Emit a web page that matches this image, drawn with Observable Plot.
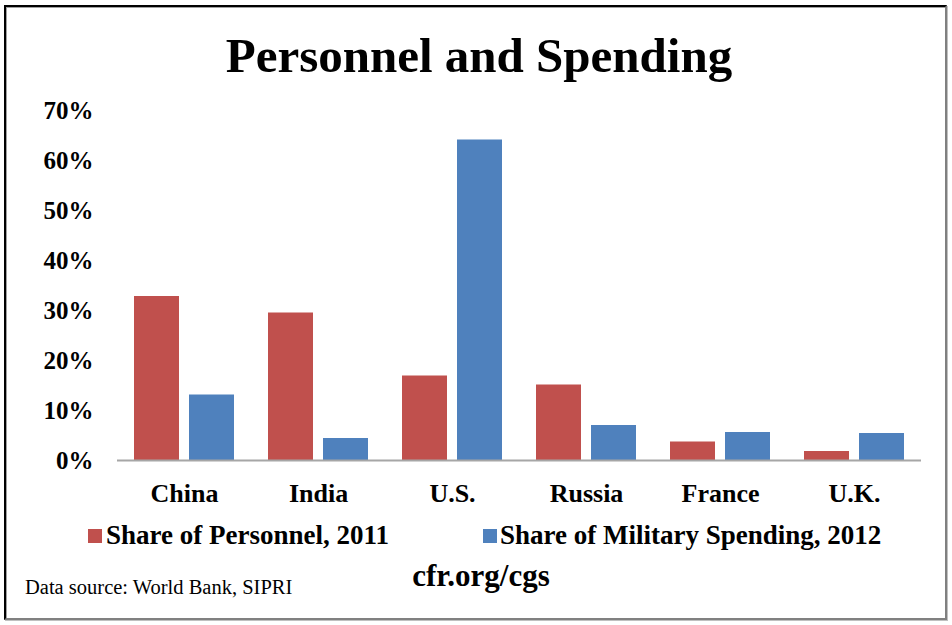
<!DOCTYPE html>
<html>
<head>
<meta charset="utf-8">
<script src="https://cdn.jsdelivr.net/npm/d3@7"></script>
<script src="https://cdn.jsdelivr.net/npm/@observablehq/plot@0.6"></script>
<style>
  html, body { margin: 0; padding: 0; background: #fff; }
  #wrap { position: relative; width: 952px; height: 625px; overflow: hidden; font-family: "Liberation Serif", "DejaVu Serif", serif; }
  #frame { position: absolute; left: 4px; top: 5px; width: 943px; height: 615px; box-sizing: border-box;
           border: 2px solid; border-color: #000 #808080 #808080 #000; box-shadow: inset 1px 1px 0 #a0a0a0, 1px 1px 0 #c0c0c0; }
  #title { position: absolute; left: 0; width: 958px; top: 27px; text-align: center; font-weight: bold; font-size: 49px; color: #000; }
  #chart { position: absolute; left: 0; top: 0; }
  .leg { position: absolute; top: 520px; font-weight: bold; font-size: 27px; color: #000; white-space: nowrap; }
  .sw { position: absolute; top: 529px; width: 14px; height: 14px; }
  #cfr { position: absolute; left: 0; width: 962px; top: 558px; text-align: center; font-weight: bold; font-size: 31px; }
  #src { position: absolute; left: 25px; top: 576px; font-size: 20.5px; }
</style>
</head>
<body>
<div id="wrap">
  <div id="chart"></div>
  <div id="frame"></div>
  <div id="title">Personnel and Spending</div>
  <div class="sw" style="left:88px;background:#C0504D"></div>
  <div class="leg" style="left:106px">Share of Personnel, 2011</div>
  <div class="sw" style="left:483px;background:#4F81BD"></div>
  <div class="leg" style="left:500px">Share of Military Spending, 2012</div>
  <div id="cfr">cfr.org/cgs</div>
  <div id="src">Data source: World Bank, SIPRI</div>
</div>
<script>
const countries = ["China", "India", "U.S.", "Russia", "France", "U.K."];
const series = ["Share of Personnel, 2011", "Share of Military Spending, 2012"];
const personnel = [32.8, 29.5, 16.9, 15.1, 3.7, 1.8];
const spending = [13.1, 4.4, 64.1, 7.0, 5.6, 5.4];
const yTicks = [0, 10, 20, 30, 40, 50, 60, 70];
const colors = ["#C0504D", "#4F81BD"];

const data = [];
countries.forEach((c, i) => {
  data.push({country: c, series: series[0], value: personnel[i]});
  data.push({country: c, series: series[1], value: spending[i]});
});

const chart = Plot.plot({
  width: 952,
  height: 520,
  marginLeft: 117,
  marginRight: 31,
  marginTop: 110,
  marginBottom: 60,
  style: {fontFamily: "'Liberation Serif', serif", fontWeight: "bold", color: "#000", background: "transparent"},
  fx: {domain: countries, padding: 0, label: null},
  x: {domain: series, paddingInner: 0.1818, paddingOuter: 0.309, axis: null},
  y: {domain: [0, 70], label: null},
  color: {domain: series, range: colors},
  marks: [
    Plot.axisY({ticks: yTicks, tickFormat: d => d + "%", tickSize: 0, tickPadding: 24, fontSize: 25, fontWeight: "bold", label: null}),
    Plot.axisFx({anchor: "bottom", tickSize: 0, tickPadding: 23, fontSize: 26, fontWeight: "bold", label: null}),
    Plot.barY(data, {fx: "country", x: "series", y: "value", fill: "series"}),
    Plot.ruleY([0], {stroke: "#a6a6a6", strokeWidth: 2})
  ]
});
document.getElementById("chart").appendChild(chart);
</script>
</body>
</html>
